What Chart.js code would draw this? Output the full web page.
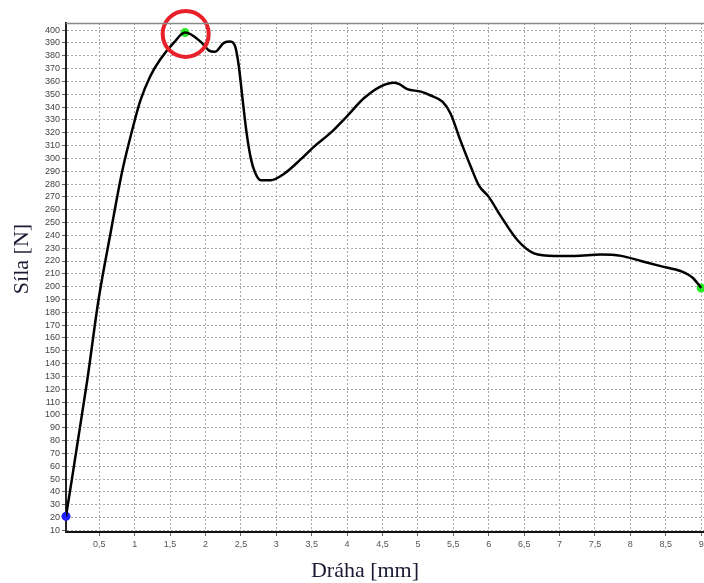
<!DOCTYPE html>
<html>
<head>
<meta charset="utf-8">
<script src="https://cdn.jsdelivr.net/npm/chart.js@4.4.1/dist/chart.umd.min.js"></script>
<style>
  html, body { margin: 0; padding: 0; background: #fff; }
  #wrap { width: 704px; height: 583px; }
</style>
</head>
<body>
<div id="wrap"><canvas id="graf" width="704" height="583"></canvas></div>
<script>
// Dráha [mm] a Síla [N]
const draha = [0.03, 0.33, 0.49, 0.66, 0.82, 0.96, 1.08, 1.22, 1.36, 1.55,
               1.71, 1.93, 2.05, 2.13, 2.26, 2.35, 2.42, 2.47, 2.52, 2.58,
               2.64, 2.70, 2.78, 2.92, 3.11, 3.34, 3.53, 3.77, 4.00, 4.24,
               4.47, 4.66, 4.73, 4.85, 5.04, 5.18, 5.35, 5.46, 5.60, 5.75,
               5.86, 6.00, 6.17, 6.41, 6.64, 6.93, 7.21, 7.58, 7.87, 8.15,
               8.43, 8.72, 8.88, 9.00];
const sila  = [21, 127, 190, 242, 289, 321, 345, 364, 377, 390,
               398, 391, 384, 383, 390, 391, 387, 372, 348, 320,
               300, 289, 283, 283, 288, 299, 309, 320, 333, 347,
               356, 359, 358, 354, 352, 349, 344, 335, 314, 293,
               279, 270, 255, 236, 226, 224, 224, 225, 224, 220,
               216, 212, 207, 199];

// body: start, maximum, konec
const bodStart = [0.03, 21];
const bodMax   = [1.71, 398];
const bodKonec = [9.00, 199];

const xTicks = [0.5, 1, 1.5, 2, 2.5, 3, 3.5, 4, 4.5, 5, 5.5, 6, 6.5, 7, 7.5, 8, 8.5, 9];
const yTicks = [10, 20, 30, 40, 50, 60, 70, 80, 90, 100, 110, 120, 130, 140, 150, 160, 170, 180, 190, 200,
                210, 220, 230, 240, 250, 260, 270, 280, 290, 300, 310, 320, 330, 340, 350, 360, 370, 380, 390, 400];

const krivka = draha.map((x, i) => ({ x, y: sila[i] }));

// popisky os a horní okraj
const popiskyOs = {
    id: 'popiskyOs',
    afterDraw(chart) {
        const { ctx, chartArea } = chart;
        ctx.save();
        ctx.strokeStyle = '#8a8a8a';
        ctx.lineWidth = 1.5;
        ctx.beginPath();
        ctx.moveTo(chartArea.left, chartArea.top + 0.5);
        ctx.lineTo(chartArea.right, chartArea.top + 0.5);
        ctx.stroke();

        ctx.fillStyle = '#1a1a33';
        ctx.font = '22px "Liberation Serif", "DejaVu Serif", serif';
        ctx.textAlign = 'center';
        ctx.textBaseline = 'alphabetic';
        ctx.fillText('Dráha [mm]', 365, 577);

        ctx.translate(22, 259);
        ctx.rotate(-Math.PI / 2);
        ctx.textBaseline = 'middle';
        ctx.fillText('Síla [N]', 0, 0);
        ctx.restore();
    }
};

const mrizka = {
    color: '#a8a8a8',
    lineWidth: 1,
    tickLength: 4,
    tickColor: '#666',
    drawOnChartArea: true
};

new Chart(document.getElementById('graf').getContext('2d'), {
    type: 'scatter',
    data: {
        datasets: [
            {
                label: 'kruh',
                data: [{ x: 1.72, y: 397 }],
                pointRadius: 23,
                pointBorderWidth: 4,
                pointBorderColor: '#e8202a',
                pointBackgroundColor: 'rgba(0,0,0,0)',
                clip: false
            },
            {
                label: 'Síla',
                data: krivka,
                showLine: true,
                borderColor: '#000',
                borderWidth: 2.5,
                pointRadius: 0,
                cubicInterpolationMode: 'monotone'
            },
            {
                label: 'start',
                data: [{ x: bodStart[0], y: bodStart[1] }],
                pointRadius: 4.5,
                pointBorderWidth: 0,
                pointBackgroundColor: '#1f1fff',
                clip: false
            },
            {
                label: 'body',
                data: [{ x: bodMax[0], y: bodMax[1] }, { x: bodKonec[0], y: bodKonec[1] }],
                pointRadius: 4.5,
                pointBorderWidth: 0,
                pointBackgroundColor: '#22ee22',
                clip: false
            }
        ]
    },
    options: {
        responsive: false,
        animation: false,
        events: [],
        layout: { autoPadding: false, padding: { top: 23, left: 0, right: 0, bottom: 0 } },
        plugins: { legend: { display: false }, tooltip: { enabled: false } },
        scales: {
            x: {
                type: 'linear',
                min: 0.03,
                max: 9.04,
                afterBuildTicks: s => { s.ticks = xTicks.map(v => ({ value: v })); },
                afterFit: s => { s.height = 51; s.paddingLeft = 0; s.paddingRight = 0; },
                grid: mrizka,
                border: { display: true, color: '#111', width: 2, dash: [2, 2] },
                ticks: {
                    padding: 3,
                    maxRotation: 0,
                    autoSkip: false,
                    color: '#555',
                    font: { family: 'Liberation Sans', size: 9 },
                    callback: v => String(v).replace('.', ',')
                }
            },
            y: {
                type: 'linear',
                min: 8.8,
                max: 405.5,
                afterBuildTicks: s => { s.ticks = yTicks.map(v => ({ value: v })); },
                afterFit: s => { s.width = 66; s.paddingTop = 0; s.paddingBottom = 0; },
                grid: mrizka,
                border: { display: true, color: '#222', width: 2, dash: [2, 2] },
                ticks: {
                    padding: 2,
                    autoSkip: false,
                    color: '#444',
                    font: { family: 'Liberation Sans', size: 9 }
                }
            }
        }
    },
    plugins: [popiskyOs]
});
</script>
</body>
</html>
